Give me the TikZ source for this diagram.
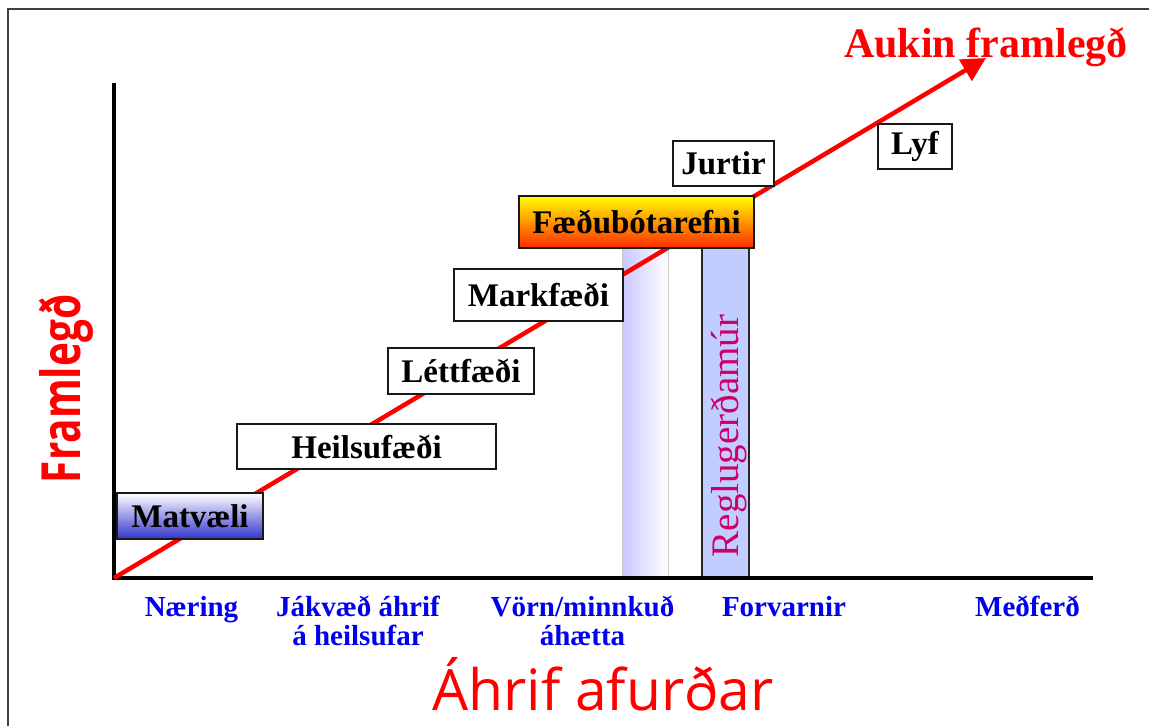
\documentclass[tikz,border=0pt]{standalone}
\usepackage{fontspec}
\setmainfont{Liberation Serif}
\newfontfamily\roundfont{Open Sans}
\newfontfamily\roundnarrow[FakeStretch=0.75]{Open Sans}
\usetikzlibrary{arrows.meta}
\definecolor{framegray}{HTML}{404040}
\definecolor{labelblue}{HTML}{0000EE}
\definecolor{wallpink}{HTML}{CC0066}
\definecolor{wallfill}{HTML}{C1CCFF}
\definecolor{zonefill}{HTML}{C8C8FF}
\definecolor{deepblue}{HTML}{3333CC}
\definecolor{hotred}{HTML}{FF2A00}
\tikzset{
  prodbox/.style={draw=black!90, line width=1.3pt, fill=white, inner sep=0pt,
    font=\bfseries\fontsize{33}{37}\selectfont},
  effectlabel/.style={text=labelblue, align=center, inner sep=0pt, anchor=base,
    font=\bfseries\fontsize{29}{29}\selectfont},
  axisline/.style={line width=4pt, black},
  growth/.style={red, line width=4.5pt, -{Triangle[length=24pt,width=24pt]}},
}
\begin{document}
\begin{tikzpicture}[x=1pt,y=-1pt]
\useasboundingbox (0,0) rectangle (1149,726);

% outer frame
\draw[framegray, line width=2pt] (8,726) -- (8,9) -- (1149,9);

% shaded zone and regulation wall
\shade[left color=zonefill, right color=white] (622,247) rectangle (668,578);
\draw[black!20, line width=1pt] (622,247) -- (622,578) (668,247) -- (668,578);
\node[draw=black!85, line width=1.3pt, fill=wallfill, minimum width=47pt,
  minimum height=331pt, inner sep=0pt] (wall) at (725.5,412.5) {};
\node[rotate=90, text=wallpink, font=\fontsize{39}{43}\selectfont]
  (walltext) at (729,436) {Reglugerðamúr};

% axes
\coordinate (origin) at (114,578);
\coordinate (ytop) at (114,83);
\coordinate (xend) at (1093,578);
\coordinate (tip) at (986,58);
\draw[axisline] (ytop) -- (origin) -- (xend);

% growth arrow
\draw[growth] (origin) -- (tip);

% product boxes
\node[prodbox, minimum width=146pt, minimum height=46pt,
  top color=white, bottom color=deepblue] (matv) at (190,516) {Matvæli};
\node[prodbox, minimum width=259pt, minimum height=45pt] (heils) at (366.5,446.5) {Heilsufæði};
\node[prodbox, minimum width=146pt, minimum height=46pt] (lett) at (461,371) {Léttfæði};
\node[prodbox, minimum width=169pt, minimum height=52pt] (mark) at (538.5,295) {Markfæði};
\node[prodbox, minimum width=235pt, minimum height=52pt,
  top color=yellow, bottom color=hotred] (faedu) at (636.5,222) {Fæðubótarefni};
\node[prodbox, minimum width=101pt, minimum height=45pt] (jurt) at (723.5,163.5) {Jurtir};
\node[prodbox, minimum width=74pt, minimum height=45pt] (lyf) at (915,146.5) {Lyf};

% titles
\node[text=red, anchor=base, inner sep=0pt, font=\bfseries\fontsize{42}{46}\selectfont]
  (aukin) at (986,57) {Aukin framlegð};
\node[text=red, rotate=90, inner sep=0pt, font=\roundnarrow\bfseries\fontsize{54}{58}\selectfont]
  (ylabel) at (66,389) {Framlegð};
\node[text=red, anchor=base, inner sep=0pt, font=\roundfont\fontsize{57}{60}\selectfont]
  (xlabel) at (603,710) {Áhrif afurðar};

% effect labels along the horizontal axis
\node[effectlabel] (naer) at (191.5,616) {Næring};
\node[effectlabel] (jakv) at (358,645) {Jákvæð áhrif\\á heilsufar};
\node[effectlabel] (vorn) at (582.5,645) {Vörn/minnkuð\\áhætta};
\node[effectlabel] (forv) at (784,616) {Forvarnir};
\node[effectlabel] (medf) at (1027.5,616) {Meðferð};
\end{tikzpicture}
\end{document}
